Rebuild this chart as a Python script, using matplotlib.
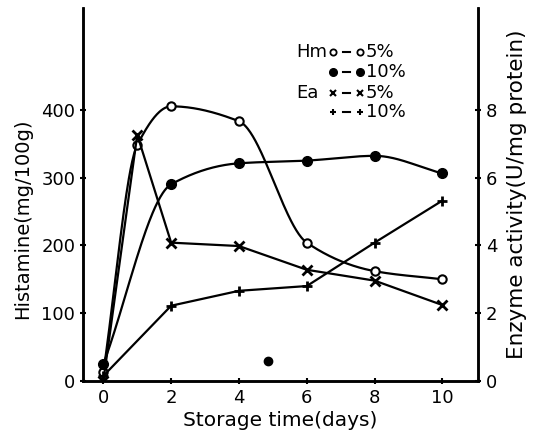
import numpy as np
import matplotlib
matplotlib.use("Agg")
import matplotlib.pyplot as plt

# ---- data ----
hm5_days = [0, 1, 2, 4, 6, 8, 10]
hm5_vals = [13, 348, 405, 383, 204, 162, 150]          # mg/100g
hm10_days = [0, 2, 4, 6, 8, 10]
hm10_vals = [25, 290, 321, 325, 332, 306]              # mg/100g
ea5_days = [0, 1, 2, 4, 6, 8, 10]
ea5_vals = [0.0, 7.26, 4.08, 3.98, 3.28, 2.96, 2.24]   # U/mg protein
ea10_days = [0, 2, 4, 6, 8, 10]
ea10_vals = [0.15, 2.22, 2.66, 2.8, 4.08, 5.32]        # U/mg protein
stray_day = [4.85]
stray_val = [30]

x_ticks = [0, 2, 4, 6, 8, 10]
left_ticks = [0, 100, 200, 300, 400]
right_ticks = [0, 2, 4, 6, 8]


def smooth_curve(x, y, n=400):
    """Monotone cubic (PCHIP-like) curve through the data points."""
    x = np.asarray(x, float); y = np.asarray(y, float)
    h = np.diff(x); delta = np.diff(y) / h
    m = np.zeros_like(y)
    for i in range(1, len(x) - 1):
        if delta[i - 1] * delta[i] > 0:
            w1 = 2 * h[i] + h[i - 1]; w2 = h[i] + 2 * h[i - 1]
            m[i] = (w1 + w2) / (w1 / delta[i - 1] + w2 / delta[i])
    m[0] = delta[0]; m[-1] = delta[-1]
    xs = np.linspace(x[0], x[-1], n)
    idx = np.clip(np.searchsorted(x, xs) - 1, 0, len(x) - 2)
    t = (xs - x[idx]) / h[idx]
    h00 = 2 * t**3 - 3 * t**2 + 1; h10 = t**3 - 2 * t**2 + t
    h01 = -2 * t**3 + 3 * t**2; h11 = t**3 - t**2
    ys = h00 * y[idx] + h10 * h[idx] * m[idx] + h01 * y[idx + 1] + h11 * h[idx] * m[idx + 1]
    return xs, ys


plt.rcParams['font.family'] = ['DejaVu Sans']
fig = plt.figure(figsize=(5.36, 4.38), dpi=100)
ax = fig.add_axes([83 / 536, 1 - 381 / 438, (478 - 83) / 536, (381 - 8) / 438])
ax2 = ax.twinx()

lw = 1.6
# Histamine curves (smooth)
xs, ys = smooth_curve(hm5_days, hm5_vals)
ax.plot(xs, ys, color='black', lw=lw)
ax.plot(hm5_days, hm5_vals, 'o', mfc='white', mec='black', mew=1.5, ms=6, zorder=5)
xs, ys = smooth_curve(hm10_days, hm10_vals)
ax.plot(xs, ys, color='black', lw=lw)
ax.plot(hm10_days, hm10_vals, 'o', color='black', ms=7, zorder=5)
ax.plot(stray_day, stray_val, 'o', color='black', ms=6, zorder=5)

# Enzyme activity (straight segments)
ax2.plot(ea5_days, ea5_vals, color='black', lw=lw, marker='x', ms=7, mew=2)
ax2.plot(ea10_days, ea10_vals, color='black', lw=lw, marker='+', ms=7, mew=2)

ax.set_xlim(-0.6, 11.05)
ax.set_ylim(0, 550)
ax2.set_ylim(0, 11)
ax.set_xticks(x_ticks)
ax.set_yticks(left_ticks)
ax2.set_yticks(right_ticks)

for a in (ax, ax2):
    for s in a.spines.values():
        s.set_linewidth(1.8)
    a.spines['top'].set_visible(False)
ax.tick_params(axis='both', labelsize=13, width=1.5, length=4, direction='inout')
ax2.tick_params(axis='y', labelsize=13, width=1.5, length=4, direction='inout')

ax.set_xlabel('Storage time(days)', fontsize=14.5, labelpad=3)
ax.set_ylabel('Histamine(mg/100g)', fontsize=14, labelpad=2)
ax.yaxis.set_label_coords(-0.13, 0.435)
ax2.set_ylabel('Enzyme activity(U/mg protein)', fontsize=15.5)
ax2.yaxis.set_label_coords(1.073, 0.5)

# hand-drawn style legend
fs = 13
def fx(px):
    return px / 536
def fy(py):
    return 1 - py / 438

fig.text(fx(296), fy(52), 'Hm', fontsize=fs, va='center', ha='left')
fig.text(fx(296), fy(93), 'Ea', fontsize=fs, va='center', ha='left')
rows = [(52, dict(marker='o', mfc='white', mec='black', mew=1.3, ms=4.5), '5%'),
        (72, dict(marker='o', color='black', ms=5.5), '10%'),
        (93, dict(marker='x', color='black', ms=4.5, mew=1.5), '5%'),
        (112, dict(marker='+', color='black', ms=5, mew=1.5), '10%')]
for py, mk, lab in rows:
    fig.add_artist(plt.Line2D([fx(333)], [fy(py)], linestyle='none', **mk))
    fig.add_artist(plt.Line2D([fx(360)], [fy(py)], linestyle='none', **mk))
    fig.add_artist(plt.Line2D([fx(343), fx(350)], [fy(py), fy(py)], color='black', lw=1.5))
    fig.text(fx(366), fy(py), lab, fontsize=fs, va='center', ha='left')

fig.savefig('out.png', dpi=100)
